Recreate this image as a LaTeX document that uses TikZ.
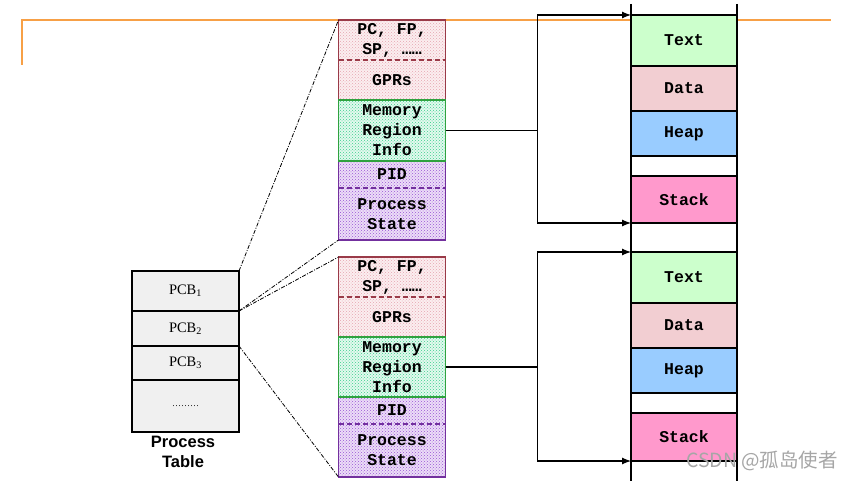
\documentclass[tikz,border=0pt]{standalone}
\usepackage{fontspec}
\setmainfont{Liberation Serif}
\setsansfont{Liberation Sans}
\setmonofont{Liberation Mono}
\newfontfamily\cjk{Noto Sans CJK SC}
\usepackage{tikz}
\usetikzlibrary{arrows.meta}
\usetikzlibrary{patterns}
\usetikzlibrary{positioning}

\definecolor{edgered}{HTML}{9A3A48}
\definecolor{fillred}{HTML}{FBEEF0}
\definecolor{dotred}{HTML}{E6A6B0}
\definecolor{edgegreen}{HTML}{2FA23F}
\definecolor{fillgreen}{HTML}{E2F9EE}
\definecolor{dotgreen}{HTML}{3CCF8C}
\definecolor{edgepurple}{HTML}{73309E}
\definecolor{fillpurple}{HTML}{ECDDF7}
\definecolor{dotpurple}{HTML}{9A55D6}
\definecolor{textgreen}{HTML}{CCFFCC}
\definecolor{datapink}{HTML}{F2CED2}
\definecolor{heapblue}{HTML}{99CCFF}
\definecolor{stackpink}{HTML}{FF99CC}
\definecolor{slideorange}{HTML}{F7A046}

\begin{document}
\begin{tikzpicture}[
                    x = 1pt, y = -1pt, % pixel grid of the slide
                    > = {Latex[length=9pt,width=7pt]}, % arrow head style
                    every node/.style = {outer sep = 0pt, inner sep = 0pt}
            ]

            \tikzstyle{tablerow}=[
                draw = black,
                line width = 1.3pt,
                fill = black!6,
                minimum width = 107,
                font = \rmfamily\fontsize{14.5}{16}\selectfont
            ]
            \tikzstyle{cell}=[
                minimum width = 107,
                align = center,
                font = \ttfamily\bfseries\fontsize{16.5}{20}\selectfont
            ]
            \tikzstyle{redcell}=[cell, preaction = {fill = fillred},
                pattern = crosshatch dots, pattern color = dotred]
            \tikzstyle{greencell}=[cell, preaction = {fill = fillgreen},
                pattern = crosshatch dots, pattern color = dotgreen]
            \tikzstyle{purplecell}=[cell, preaction = {fill = fillpurple},
                pattern = crosshatch dots, pattern color = dotpurple]
            \tikzstyle{segment}=[
                draw = black,
                line width = 1.3pt,
                minimum width = 106,
                font = \ttfamily\bfseries\fontsize{16.5}{20}\selectfont
            ]
            \tikzstyle{zoomline}=[
                line width = 0.8pt,
                dash pattern = on 4pt off 1.5pt on 1pt off 1.5pt
            ]
            \tikzstyle{split}=[dash pattern = on 5pt off 3pt]
            \tikzstyle{link}=[line width = 1.2pt]

            \useasboundingbox (0,0) rectangle (853,481);

            % slide frame
            \draw[slideorange, line width = 1.8pt] (22,65) -- (22,20) -- (831,20);

            % process table
            \node[tablerow, minimum height = 40] (P1) at (185.5,291) {PCB\textsubscript{1}};
            \node[tablerow, minimum height = 35] (P2) [below = 0pt of P1] {PCB\textsubscript{2}};
            \node[tablerow, minimum height = 34] (P3) [below = 0pt of P2] {PCB\textsubscript{3}};
            \node[tablerow, minimum height = 52] (P4) [below = 0pt of P3] {\fontsize{9}{10}\selectfont ………};
            \node[align = center, font = \sffamily\bfseries\fontsize{16.5}{20}\selectfont]
                (PT) at (183,452) {Process\\Table};

            % first PCB
            \node[redcell, minimum height = 40] (PC1) at (392,40) {PC, FP,\\SP, ……};
            \node[redcell, minimum height = 40] (GP1) at (392,80) {GPRs};
            \node[greencell, minimum height = 61] (MR1) at (392,130.5) {Memory\\Region\\Info};
            \node[purplecell, minimum height = 27] (ID1) at (392,174.5) {PID};
            \node[purplecell, minimum height = 52] (PS1) at (392,214) {Process\\State};
            \draw[edgered, line width = 1.2pt] (PC1.north west) rectangle (GP1.south east);
            \draw[edgered, line width = 1.2pt, split] (PC1.south west) -- (PC1.south east);
            \draw[edgepurple, line width = 1.2pt] (ID1.north west) rectangle (PS1.south east);
            \draw[edgepurple, line width = 1.2pt, split] (ID1.south west) -- (ID1.south east);
            \draw[edgegreen, line width = 1.2pt] (MR1.north west) rectangle (MR1.south east);

            % second PCB
            \node[redcell, minimum height = 40] (PC2) at (392,277) {PC, FP,\\SP, ……};
            \node[redcell, minimum height = 40] (GP2) at (392,317) {GPRs};
            \node[greencell, minimum height = 60] (MR2) at (392,367) {Memory\\Region\\Info};
            \node[purplecell, minimum height = 27] (ID2) at (392,410.5) {PID};
            \node[purplecell, minimum height = 53] (PS2) at (392,450.5) {Process\\State};
            \draw[edgered, line width = 1.2pt] (PC2.north west) rectangle (GP2.south east);
            \draw[edgered, line width = 1.2pt, split] (PC2.south west) -- (PC2.south east);
            \draw[edgepurple, line width = 1.2pt] (ID2.north west) rectangle (PS2.south east);
            \draw[edgepurple, line width = 1.2pt, split] (ID2.south west) -- (ID2.south east);
            \draw[edgegreen, line width = 1.2pt] (MR2.north west) rectangle (MR2.south east);

            % zoom lines
            \draw[zoomline] (P1.north east) -- (PC1.north west);
            \draw[zoomline] (P1.south east) -- (PS1.south west);
            \draw[zoomline] (P2.north east) -- (PC2.north west);
            \draw[zoomline] (P2.south east) -- (PS2.south west);

            % address spaces
            \node[segment, fill = textgreen, minimum height = 51] (T1) at (684,40.5) {Text};
            \node[segment, fill = datapink, minimum height = 45] (D1) at (684,88.5) {Data};
            \node[segment, fill = heapblue, minimum height = 45] (H1) at (684,133.5) {Heap};
            \node[segment, fill = white, minimum height = 20] (G1) at (684,166) {};
            \node[segment, fill = stackpink, minimum height = 47] (S1) at (684,199.5) {Stack};

            \node[segment, fill = textgreen, minimum height = 51] (T2) at (684,277.5) {Text};
            \node[segment, fill = datapink, minimum height = 45] (D2) at (684,325.5) {Data};
            \node[segment, fill = heapblue, minimum height = 45] (H2) at (684,370.5) {Heap};
            \node[segment, fill = white, minimum height = 20] (G2) at (684,403) {};
            \node[segment, fill = stackpink, minimum height = 48] (S2) at (684,437) {Stack};

            \coordinate (L0) at (631,4);
            \coordinate (L1) at (631,481);
            \coordinate (R0) at (737,4);
            \coordinate (R1) at (737,481);
            \draw[line width = 1.8pt] (L0) -- (L1);
            \draw[line width = 1.8pt] (R0) -- (R1);

            % memory region pointers
            \draw[link, ->] (MR1.east) -- ++(92,0) |- (T1.north west);
            \draw[link, ->] (MR1.east) -- ++(92,0) |- (S1.south west);
            \draw[link, ->] (MR2.east) -- ++(92,0) |- (T2.north west);
            \draw[link, ->] (MR2.east) -- ++(92,0) |- (S2.south west);

            % watermark
            \node[text = black!35, font = \cjk\fontsize{19.5}{20}\selectfont] (WM) at (762,461) {CSDN @孤岛使者};
        \end{tikzpicture}
\end{document}
